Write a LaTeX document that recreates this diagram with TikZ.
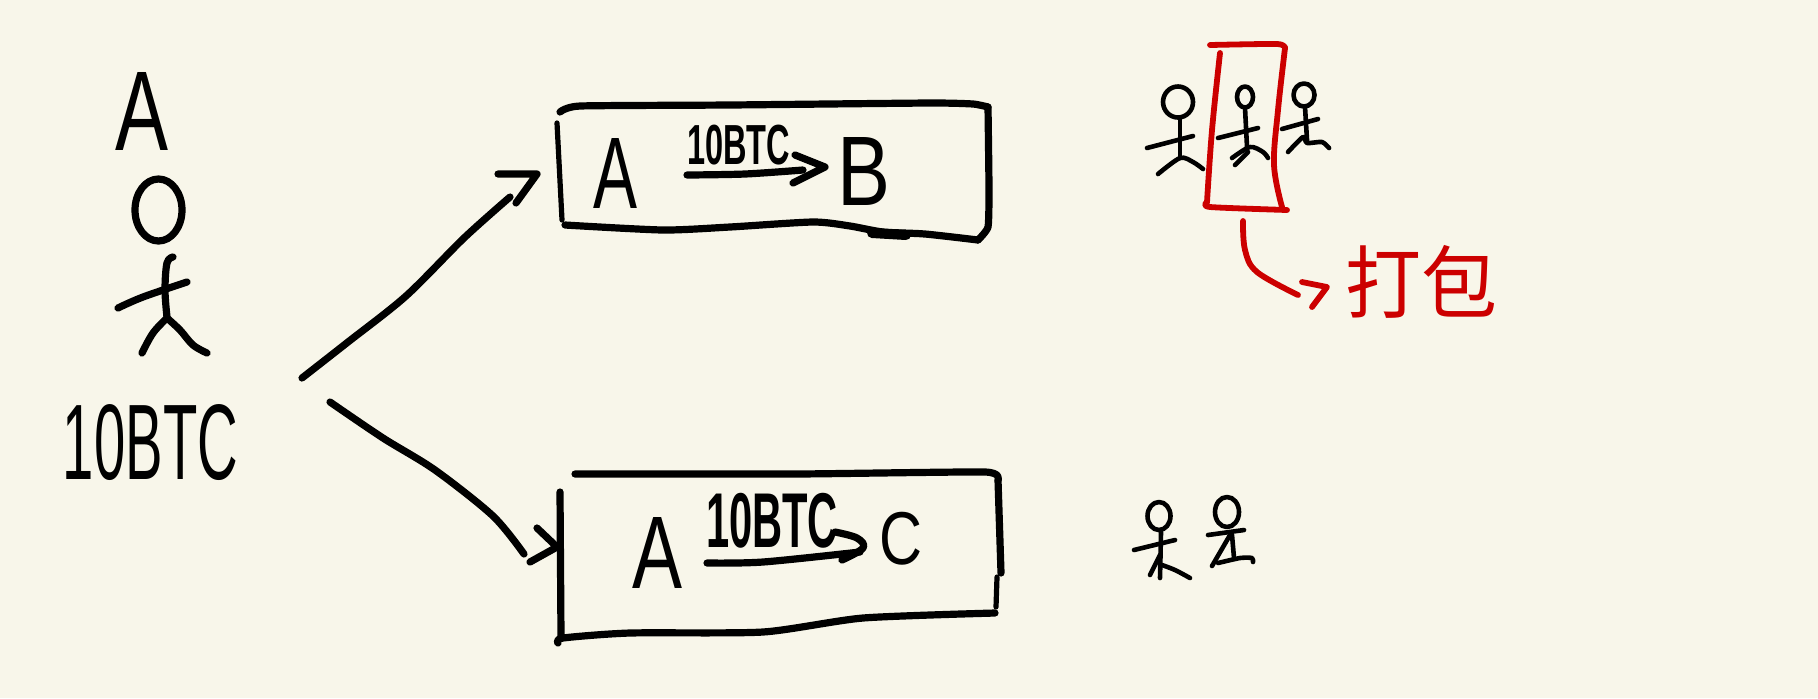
\documentclass[tikz,border=0pt]{standalone}
\usepackage{graphicx}
\usepackage{fontspec}
\setmainfont{Liberation Sans}
\newfontfamily\cjkhand{Noto Sans CJK SC}
\definecolor{paper}{HTML}{F8F6EA}
\definecolor{redink}{HTML}{CC0000}
\newcommand{\fitlabel}[3]{\resizebox*{#1pt}{#2pt}{#3}}
\tikzset{
  ink/.style={draw=black,line width=3.6pt,line cap=round,line join=round},
  thinink/.style={draw=black,line width=2.3pt,line cap=round,line join=round},
  redpen/.style={draw=redink,line width=2.9pt,line cap=round,line join=round},
  inklabel/.style={inner sep=0pt,outer sep=0pt,text=black},
  amountlabel/.style={inklabel,font=\bfseries},
  redlabel/.style={inner sep=0pt,outer sep=0pt,text=redink}
}
\begin{document}
\begin{tikzpicture}[x=0.5pt,y=-0.5pt]
\fill[paper] (0,0) rectangle (1818,698);
\useasboundingbox (0,0) rectangle (1818,698);
% left person
\node[inklabel] (topA) at (141.5,111) {\fitlabel{26.5}{39}{A}};
\draw[ink] (158.5,210) circle[x radius=23.5,y radius=31];
\draw[ink] plot[smooth,tension=.6] coordinates {(173,257) (167,263) (165,290) (167,317)};
\draw[ink] plot[smooth,tension=.6] coordinates {(118,308) (143,297) (187,282)};
\draw[ink] plot[smooth,tension=.6] coordinates {(142,353) (153,333) (167,318)};
\draw[ink] plot[smooth,tension=.6] coordinates {(167,318) (180,330) (193,345) (207,353)};
\node[inklabel] (leftamount) at (150.5,443) {\fitlabel{87.5}{38}{10BTC}};
% arrows
\coordinate (forkB) at (302,378);
\coordinate (forkC) at (330,402);
\coordinate (endB) at (510,197);
\coordinate (endC) at (524,554);
\coordinate (tipB) at (537,174);
\coordinate (tipC) at (557,547);
\draw[ink] plot[smooth,tension=.5] coordinates {(forkB) (348,342) (406,296) (464,238) (endB)};
\draw[ink] (498,174) -- (tipB) -- (516,203);
\draw[ink] plot[smooth,tension=.5] coordinates {(forkC) (383,438) (435,470) (493,516) (endC)};
\draw[ink] (537,528) -- (tipC) -- (530,562);
% box B
\draw[ink] plot[smooth,tension=.3] coordinates {(560,112) (580,106) (730,105) (930,103) (973,104) (988,107)};
\draw[ink] plot[smooth,tension=.3] coordinates {(988,107) (989,190) (988,227) (978,240)};
\draw[ink] plot[smooth,tension=.4] coordinates {(978,240) (925,234) (883,232) (850,226) (813,222) (730,227) (663,230) (565,225)};
\draw[ink,line width=2.6pt] (557,123) -- (562,220);
\draw[ink,line width=5pt] (872,233) -- (906,235);
\node[inklabel] (boxBfrom) at (615,173) {\fitlabel{22}{35}{A}};
\node[amountlabel] (boxBamount) at (738.5,145) {\fitlabel{51.5}{20}{10BTC}};
\node[inklabel] (boxBto) at (863.5,171) {\fitlabel{26.5}{34}{B}};
\draw[ink] plot[smooth,tension=.5] coordinates {(687,175) (745,174) (803,170)};
\draw[ink] (795,155) -- (825,167) -- (793,183);
% box C
\draw[ink] plot[smooth,tension=.3] coordinates {(575,474) (797,474) (985,472) (998,480)};
\draw[ink] (998,480) -- (1001,573);
\draw[ink,line width=2.6pt] (997,577) -- (996,607);
\draw[ink] plot[smooth,tension=.4] coordinates {(995,613) (863,618) (763,632) (630,633) (563,638) (558,643)};
\draw[ink] (560,492) -- (561,637);
\node[inklabel] (boxCfrom) at (657,552.5) {\fitlabel{25}{35.5}{A}};
\node[amountlabel] (boxCamount) at (772,520.5) {\fitlabel{66}{27.5}{10BTC}};
\node[inklabel] (boxCto) at (900.5,538.5) {\fitlabel{21.5}{26.5}{C}};
\draw[ink] plot[smooth,tension=.5] coordinates {(707,563) (763,562) (860,552)};
\draw[ink] plot[smooth,tension=.6] coordinates {(835,532) (857,538) (863,548) (842,560)};
% upper people
\draw[thinink] (1178,102) circle[x radius=15,y radius=15.5];
\draw[thinink] (1180,118) -- (1180,158);
\draw[thinink] (1147,148) -- (1193,136);
\draw[thinink] plot[smooth,tension=.5] coordinates {(1158,174) (1180,158) (1193,162) (1203,169)};
\draw[thinink] (1245,97) circle[x radius=8,y radius=10.5];
\draw[thinink] (1245,108) -- (1247,147);
\draw[thinink] (1218,138) -- (1258,128);
\draw[thinink] plot[smooth,tension=.5] coordinates {(1232,158) (1250,147) (1263,152) (1268,158)};
\draw[thinink] (1235,165) -- (1248,152);
\draw[thinink] (1304,95) circle[x radius=10.5,y radius=11.5];
\draw[thinink] (1305,107) -- (1307,140);
\draw[thinink] (1282,129) -- (1318,119);
\draw[thinink] plot[smooth,tension=.4] coordinates {(1288,152) (1303,137) (1307,143) (1322,142) (1329,148)};
% lower people
\draw[thinink] (1159,516) circle[x radius=11.5,y radius=14];
\draw[thinink] (1161,532) -- (1160,578);
\draw[thinink] (1134,550) -- (1175,540);
\draw[thinink] (1150,575) -- (1160,555);
\draw[thinink] plot[smooth,tension=.5] coordinates {(1162,565) (1175,570) (1190,578)};
\draw[thinink] (1227,512) circle[x radius=12,y radius=15];
\draw[thinink] (1208,535) -- (1244,530);
\draw[thinink] (1230,535) -- (1212,566);
\draw[thinink] (1232,535) -- (1234,558);
\draw[thinink] plot[smooth,tension=.4] coordinates {(1218,563) (1240,558) (1252,558) (1253,562)};
% red package
\draw[redpen] plot[smooth,tension=.4] coordinates {(1210,45) (1277,44) (1285,48)};
\draw[redpen] plot[smooth,tension=.6] coordinates {(1285,48) (1278,110) (1274,165) (1282,207)};
\draw[redpen] plot[smooth,tension=.4] coordinates {(1287,210) (1210,207) (1207,202)};
\draw[redpen] plot[smooth,tension=.6] coordinates {(1207,202) (1212,130) (1220,53)};
\coordinate (packStart) at (1243,221);
\coordinate (packEnd) at (1298,295);
\coordinate (packTip) at (1327,287);
\draw[redpen] plot[smooth,tension=.6] coordinates {(packStart) (1245,250) (1257,272) (packEnd)};
\draw[redpen] (1302,282) -- (packTip) -- (1312,307);
\node[redlabel] (packlabel) at (1421,281.5) {\fitlabel{76}{36.5}{\cjkhand 打包}};
\end{tikzpicture}
\end{document}
